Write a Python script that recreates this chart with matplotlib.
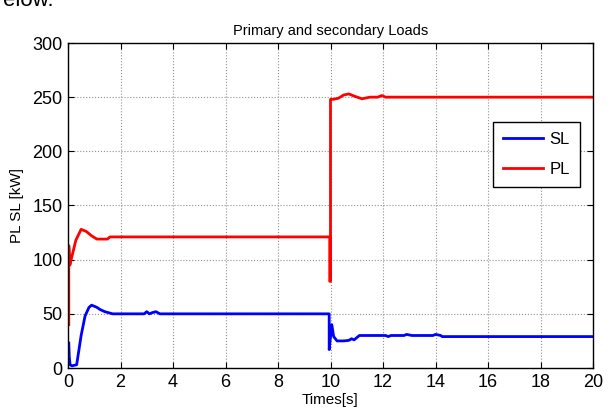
import numpy as np
import matplotlib
matplotlib.use("Agg")
import matplotlib.pyplot as plt

# Data (time in s, load in kW)
pl_time = [0.03, 0.03, 0.04, 0.07, 0.15, 0.3, 0.5, 0.7, 0.9, 1.1, 1.5, 1.6, 9.97,
           9.97, 10.0, 10.0, 10.1, 10.3, 10.5, 10.7, 10.9, 11.2, 11.5, 11.8,
           11.95, 12.1, 20.0]
pl_vals = [40, 113, 110, 95, 103, 118, 128, 126, 122, 119, 119, 121, 121,
           80, 80, 248, 248, 249, 252, 253, 251, 248.5, 250, 250,
           251.5, 250, 250]

sl_time = [0.03, 0.05, 0.08, 0.15, 0.33, 0.5, 0.65, 0.8, 0.9, 1.0, 1.1, 1.22,
           1.4, 1.7, 2.0, 2.9, 3.0, 3.1, 3.2, 3.35, 3.5, 3.6, 9.95, 9.95,
           10.05, 10.12, 10.25, 10.5, 10.7, 10.8, 10.9, 11.1, 12.1, 12.2,
           12.3, 12.8, 12.9, 13.1, 13.9, 14.0, 14.2, 14.25, 20.0]
sl_vals = [23, 10, 3, 2, 3, 30, 48, 56, 58, 57, 56, 54, 52, 50, 50, 50, 52, 50,
           51, 52, 50, 50, 50, 17, 40, 29, 25, 25, 25.5, 27, 26, 30, 30, 29,
           30, 30, 31, 30, 30, 31, 30, 29, 29]

x_ticks = np.arange(0, 21, 2)
y_ticks = np.arange(0, 301, 50)

plt.rcParams['font.family'] = ['Liberation Sans', 'DejaVu Sans']

fig = plt.figure(figsize=(6.09, 4.19), dpi=100)
ax = fig.add_axes([68 / 609, 1 - 368 / 419, 525 / 609, 325 / 419])

ax.plot(sl_time, sl_vals, color='#0000ff', lw=2.0, label='SL')
ax.plot(pl_time, pl_vals, color='#ff0000', lw=2.0, label='PL')

ax.set_xlim(0, 20)
ax.set_ylim(0, 300)
ax.set_xticks(x_ticks)
ax.set_yticks(y_ticks)
ax.tick_params(direction='in', top=True, right=True, labelsize=13,
               length=4, width=0.8, pad=4)
ax.grid(True, color='#909090', linestyle=':', linewidth=0.8)
for s in ax.spines.values():
    s.set_linewidth(1.0)

ax.set_title('Primary and secondary Loads', fontsize=10.5, pad=6)
ax.set_xlabel('Times[s]', fontsize=11, labelpad=2)
ax.set_ylabel('PL SL [kW]', fontsize=11, labelpad=6)

leg = ax.legend(loc='upper right', bbox_to_anchor=(0.975, 0.757), fontsize=12,
                fancybox=False, framealpha=1, edgecolor='black',
                handlelength=2.4, handletextpad=0.4, borderpad=0.6,
                labelspacing=0.9, borderaxespad=0)
leg.get_frame().set_linewidth(1.0)

# cut-off document text at the top edge
fig.text(0.005, 1.0, 'elow.', fontsize=16, va='center', ha='left')

fig.savefig('out.png', dpi=100)
